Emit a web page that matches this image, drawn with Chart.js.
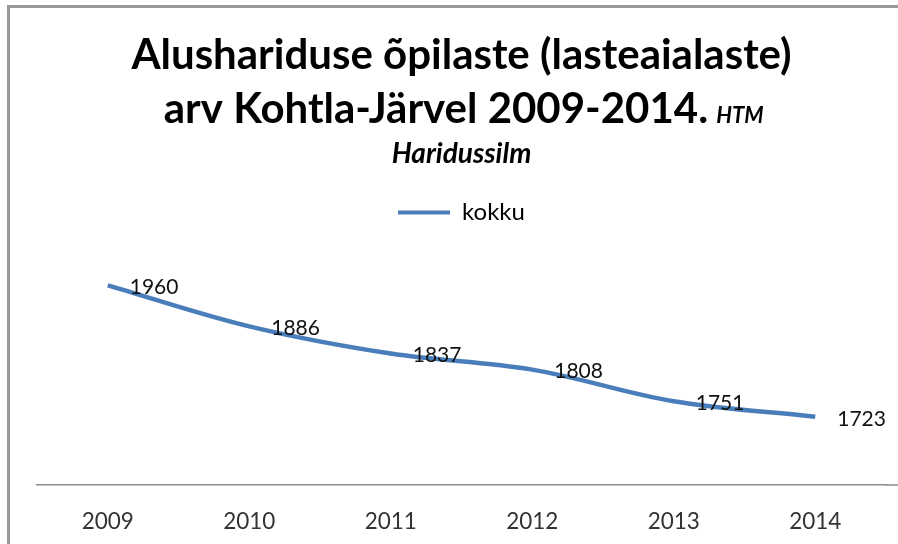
<!DOCTYPE html>
<html>
<head>
<meta charset="utf-8">
<script src="https://cdn.jsdelivr.net/npm/chart.js@4"></script>
<style>
  html, body { margin: 0; padding: 0; width: 898px; height: 544px; overflow: hidden; background: #fff; }
  #frame { position: absolute; left: 7px; top: 5px; width: 920px; height: 560px;
           border-left: 3px solid #999; border-top: 3px solid #999; }
  #wrap { position: absolute; left: 10px; top: 8px; width: 898px; height: 550px; }
</style>
</head>
<body>
<div id="frame"></div>
<div id="wrap"><canvas id="c"></canvas></div>
<script>
const categories = ['2009', '2010', '2011', '2012', '2013', '2014'];
const kokku = [1960, 1886, 1837, 1808, 1751, 1723];
const seriesName = 'kokku';
const titleLine1 = 'Alushariduse õpilaste (lasteaialaste)';
const titleLine2 = 'arv Kohtla-Järvel 2009-2014.';
const titleTag = 'HTM';
const subtitleText = 'Haridussilm';

const FAM = 'Lato, "Open Sans", sans-serif';
const TITLE_SIZE = 42;
const TITLE_LH = 54 / 42;
const TITLE_PAD = 20.5;
const titleFontCss = 'bold ' + TITLE_SIZE + 'px ' + FAM;
const tagFont = 'italic bold 22px ' + FAM;

// pad line 2 with spaces so that the small "HTM" tag fits in the centred line
const mctx = document.createElement('canvas').getContext('2d');
mctx.font = titleFontCss;
const spaceW = mctx.measureText(' ').width;
mctx.font = tagFont;
const tagW = mctx.measureText(titleTag).width + 8;
const nSpaces = Math.max(1, Math.round(tagW / spaceW));
const line2Padded = titleLine2 + ' '.repeat(nSpaces);

const extraText = {
  id: 'extraText',
  afterDraw(chart) {
    const ctx = chart.ctx;
    const tb = chart.titleBlock;
    ctx.save();
    ctx.font = titleFontCss;
    const fullW = ctx.measureText(line2Padded).width;
    const mainW = ctx.measureText(titleLine2).width;
    const cx = (tb.left + tb.right) / 2;
    const lh = TITLE_SIZE * TITLE_LH;
    const mid2 = tb.top + TITLE_PAD + lh / 2 + lh;
    const startX = cx - fullW / 2;
    ctx.font = tagFont;
    ctx.fillStyle = '#000';
    ctx.textAlign = 'left';
    ctx.textBaseline = 'alphabetic';
    const base2 = mid2 + 0.3225 * TITLE_SIZE;
    ctx.fillText(titleTag, startX + mainW + 8, base2);
    // axis line continues to the right edge of the chart area frame
    const ca = chart.chartArea;
    ctx.strokeStyle = '#8a8a8a';
    ctx.lineWidth = 1.5;
    ctx.beginPath();
    ctx.moveTo(ca.right, ca.bottom);
    ctx.lineTo(chart.width, ca.bottom);
    ctx.stroke();
    ctx.restore();
  },
  afterDatasetsDraw(chart) {
    const ctx = chart.ctx;
    const meta = chart.getDatasetMeta(0);
    ctx.save();
    ctx.font = '21px ' + FAM;
    ctx.fillStyle = '#111';
    ctx.textAlign = 'left';
    ctx.textBaseline = 'middle';
    meta.data.forEach((pt, i) => {
      ctx.fillText(String(kokku[i]), pt.x + 22, pt.y + 2);
    });
    ctx.restore();
  }
};

new Chart(document.getElementById('c'), {
  type: 'line',
  data: {
    labels: categories,
    datasets: [{
      label: seriesName,
      data: kokku,
      borderColor: '#4a7ebb',
      backgroundColor: '#4a7ebb',
      borderWidth: 4.5,
      tension: 0.35,
      pointRadius: 0,
      pointHoverRadius: 0,
      fill: false,
      clip: false
    }]
  },
  options: {
    responsive: true,
    maintainAspectRatio: false,
    animation: false,
    layout: { padding: { left: 27, right: 22, top: 0, bottom: 0 } },
    plugins: {
      title: {
        display: true,
        text: [titleLine1, line2Padded],
        color: '#000',
        font: { family: FAM, size: TITLE_SIZE, weight: 'bold', lineHeight: TITLE_LH },
        padding: { top: TITLE_PAD, bottom: 0 }
      },
      subtitle: {
        display: true,
        text: subtitleText,
        color: '#000',
        font: { family: FAM, size: 28, weight: 'bold', style: 'italic', lineHeight: 1.2 },
        padding: { top: 0.5, bottom: 14 }
      },
      legend: {
        display: true,
        position: 'top',
        labels: {
          color: '#404040',
          font: { family: FAM, size: 24 },
          boxWidth: 52,
          boxHeight: 4,
          padding: 16,
          generateLabels(chart) {
            return [{ text: seriesName, fillStyle: '#4a7ebb', strokeStyle: '#4a7ebb', lineWidth: 0, datasetIndex: 0, hidden: false }];
          }
        }
      },
      tooltip: { enabled: false }
    },
    scales: {
      x: {
        offset: true,
        grid: { display: false, drawTicks: false },
        border: { display: true, color: '#8a8a8a', width: 1.5 },
        ticks: { color: '#333', font: { family: FAM, size: 22.5 }, padding: 23 }
      },
      xSpacer: {
        type: 'category',
        position: 'top',
        offset: true,
        grid: { display: false, drawTicks: false },
        border: { display: false },
        ticks: { display: false },
        afterFit(scale) { scale.height = 28.5; }
      },
      y: {
        display: false,
        min: 1600,
        max: 2000
      }
    }
  },
  plugins: [extraText]
});
</script>
</body>
</html>
